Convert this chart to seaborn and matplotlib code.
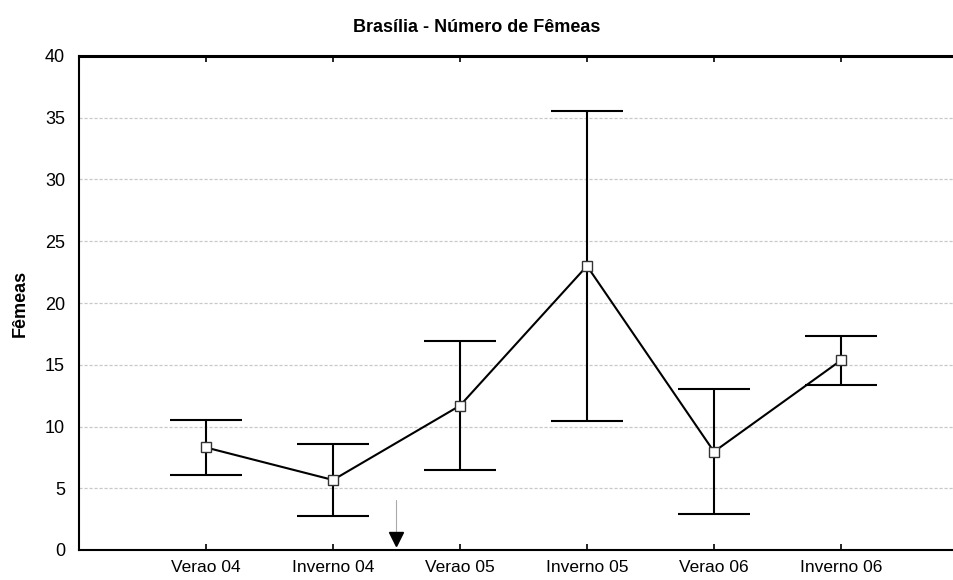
import matplotlib
matplotlib.use("Agg")
import matplotlib.pyplot as plt
import seaborn as sns
import pandas as pd
import numpy as np

# Seasonal sampling periods and mean number of females (with error half-widths)
periods = ["Verao 04", "Inverno 04", "Verao 05", "Inverno 05", "Verao 06", "Inverno 06"]
mean_females = [8.3, 5.67, 11.69, 23.0, 7.96, 15.36]
err_females = [2.2, 2.92, 5.25, 12.57, 5.08, 1.98]
y_ticks = [0, 5, 10, 15, 20, 25, 30, 35, 40]

# Position of the event marker (between Inverno 04 and Verao 05)
event_x = 1.5

sns.set_theme(style="white")
plt.rcParams["font.family"] = ["Liberation Sans", "DejaVu Sans"]

df = pd.DataFrame({"periodo": periods, "femeas": mean_females})

fig = plt.figure(figsize=(9.54, 5.8), dpi=100)
ax = fig.add_axes([79 / 954, 30 / 580, (968 - 79) / 954, 494 / 580])

pos = np.arange(len(periods))

# error bars
ax.errorbar(pos, mean_females, yerr=err_females, fmt="none", ecolor="black",
            elinewidth=1.5, capsize=26, capthick=1.5, zorder=2)

# mean line with square markers
sns.lineplot(data=df, x="periodo", y="femeas", sort=False, ax=ax,
             color="black", linewidth=1.5, marker="s", markersize=6.5,
             markerfacecolor="white", markeredgecolor="#333333",
             markeredgewidth=1.0, zorder=3)

# event arrow
ax.plot([event_x, event_x], [1.4, 4.05], color="#aaaaaa", linewidth=0.8, zorder=1)
ax.plot([event_x], [0.9], marker="v", markersize=10.5, color="black",
        linestyle="none", zorder=4, clip_on=False)

ax.set_xlim(-1, 6)
ax.set_ylim(0, 40)
ax.set_xticks(pos)
ax.set_xticklabels(periods)
ax.set_yticks(y_ticks)
ax.set_yticklabels([str(t) for t in y_ticks])

for yv in y_ticks[1:-1]:
    ax.axhline(yv, color="#c8c8c8", linewidth=0.9, linestyle=(0, (2.5, 1.5)), zorder=0)

ax.tick_params(axis="x", direction="in", length=4, width=1.2, color="black",
               top=True, bottom=True, labelsize=12.5, pad=7, labelcolor="black")
ax.tick_params(axis="y", length=0, labelsize=13, pad=10, labelcolor="black")

for side in ["left", "bottom"]:
    ax.spines[side].set_color("black")
    ax.spines[side].set_linewidth(1.5)
ax.spines["top"].set_color("black")
ax.spines["top"].set_linewidth(2.2)
ax.spines["right"].set_visible(False)

ax.set_xlabel("")
ax.set_ylabel("")
fig.text(20 / 954, 1 - 303 / 580, "Fêmeas", rotation=90, ha="center", va="center",
         fontsize=13, fontweight="bold", color="black")
fig.text(0.5, 1 - 27 / 580, "Brasília - Número de Fêmeas", ha="center", va="center",
         fontsize=13, fontweight="bold", color="black")

fig.savefig("out.png", dpi=100, facecolor="white")
